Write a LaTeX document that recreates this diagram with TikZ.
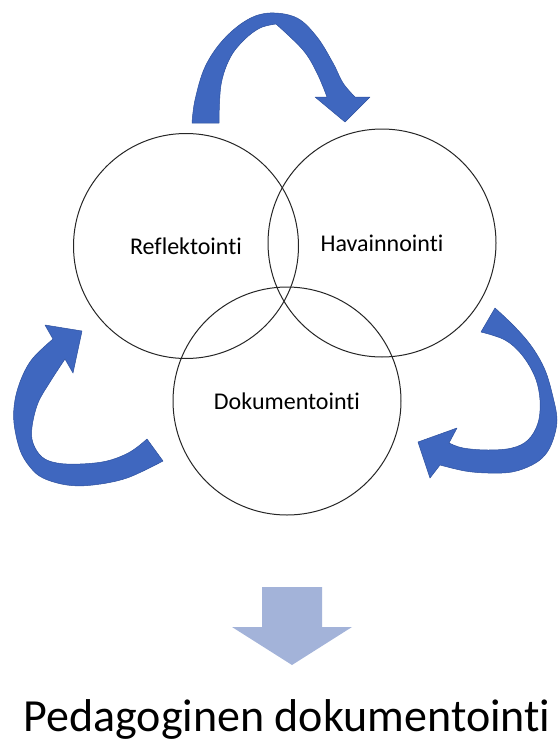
\documentclass[tikz,border=0pt]{standalone}
\usepackage{fontspec}
\setmainfont{Carlito}[Ligatures={NoCommon,NoContextual}]
\definecolor{a1}{RGB}{63,103,191}
\definecolor{a1d}{RGB}{45,80,158}
\definecolor{a2}{RGB}{163,179,217}
\tikzset{%
  circ/.style = { circle, draw=black!85, line width=1pt, inner sep=0pt, font=\fontsize{24}{28}\selectfont },
  bluearrow/.style = { fill=a1, draw=a1d, line width=0.5pt, line join=round },
  downarrow/.style = { fill=a2, draw=none },
  titletext/.style = { font=\fontsize{46}{54}\selectfont, anchor=base, inner sep=0pt }
}
\begin{document}
\begin{tikzpicture}[x=1pt,y=-1pt]

  \useasboundingbox (0,0) rectangle (559,744);

  % Circles
  \node[circ, minimum size=225pt] (refl) at (186,246) {Reflektointi};
  \node[circ, minimum size=228pt] (hav)  at (382,243) {Havainnointi};
  \node[circ, minimum size=228pt] (dok)  at (287,401) {Dokumentointi};

  % Top arrow
  \path[bluearrow] plot[smooth, tension=0.6] coordinates {(192,123) (195,100) (205,67) (223,40) (247,20) (270,13) (297,18) (317,37) (333,63) (343,83) (355,97)}
    -- (370,97) -- (345,122) -- (315,97) -- (327,97)
    -- plot[smooth, tension=0.6] coordinates {(327,97) (317,73) (303,50) (276,24)}
    -- plot[smooth, tension=0.6] coordinates {(276,24) (260,28) (244,40) (230,58) (221,85) (219,123)}
    -- cycle;

  % Left arrow
  \path[bluearrow] plot[smooth, tension=0.6] coordinates {(163,461) (127,478) (93,485) (67,485) (43,478) (30,467) (20,450) (14,423) (15,400) (22,377) (33,358) (53,339)}
    -- (45,325) -- (82,331) -- (73,373) -- (65,359)
    -- plot[smooth, tension=0.6] coordinates {(65,359) (50,382) (38,403) (32,427) (33,443) (42,457) (57,463) (80,464) (107,461) (130,452) (147,439)}
    -- cycle;

  % Right arrow
  \path[bluearrow] plot[smooth, tension=0.6] coordinates {(495,308) (515,327) (532,347) (545,370) (553,397) (557,420) (553,440) (545,455) (532,465) (512,472) (488,473) (465,471) (440,465)}
    -- (430,478) -- (418,442) -- (457,428) -- (449,443)
    -- plot[smooth, tension=0.6] coordinates {(449,443) (463,448) (488,450) (512,448) (528,440) (538,423) (540,400) (535,377) (522,355) (505,340) (481,332)}
    -- cycle;

  % Down arrow
  \path[downarrow] (262,587) -- (322,587) -- (322,627) -- (352,627) -- (292,665) -- (232,627) -- (262,627) -- cycle;

  % Title
  \node[titletext] (ped) at (287,731) {Pedagoginen dokumentointi};

\end{tikzpicture}
\end{document}
